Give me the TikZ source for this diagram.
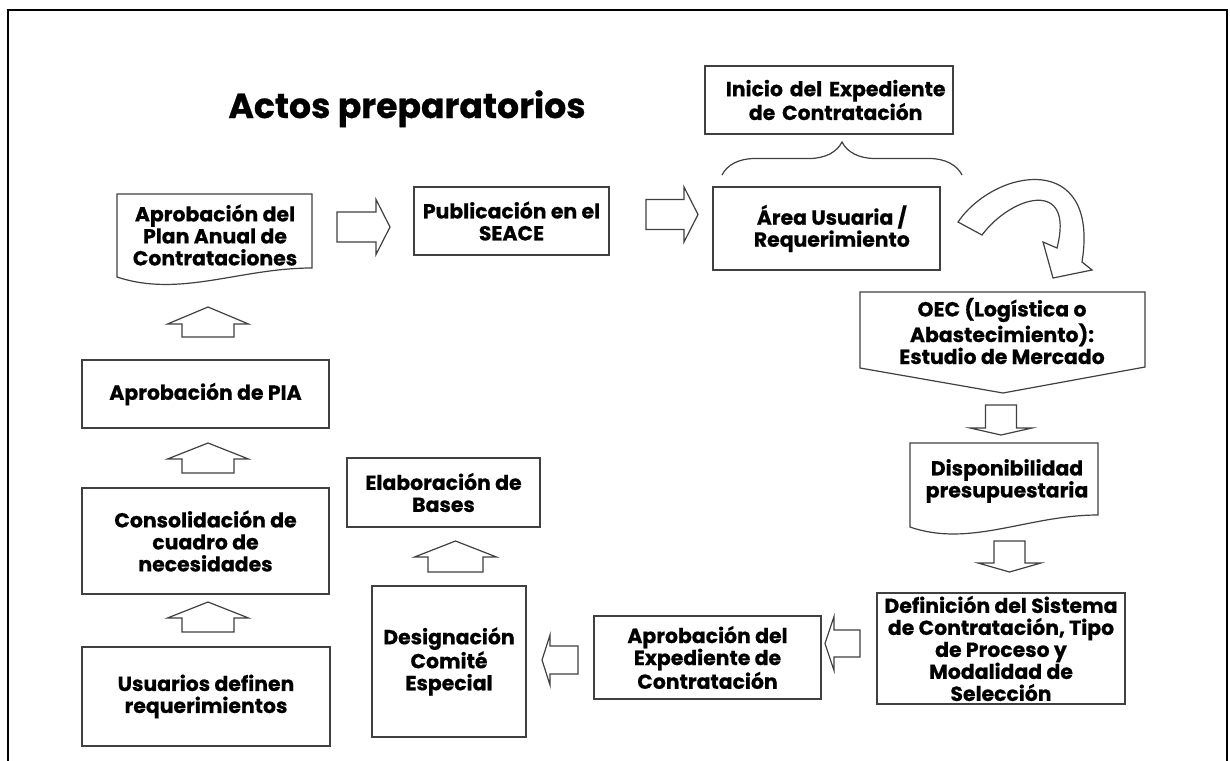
\documentclass[tikz,border=0pt]{standalone}
\usepackage{fontspec}
\setmainfont{Poppins}[BoldFeatures={FakeBold=0.6}]
\usetikzlibrary{decorations.pathreplacing,calc}
\tikzset{
  shapeline/.style={draw=black!75, line width=0.9pt, fill=white},
  lbl/.style={font=\fontsize{15.3}{16.5}\selectfont\bfseries, align=center, text=black},
  box/.style={shapeline, lbl, inner sep=0pt},
  sz/.style 2 args={minimum width=#1*0.75pt, minimum height=#2*0.75pt},
  frame/.style={draw=black, line width=1.8pt},
  pics/barrow/.style n args={4}{code={
    \draw[shapeline] (-#1/2,-#3/2) -- (#1/2-#2,-#3/2) -- (#1/2-#2,-#4/2) -- (#1/2,0)
      -- (#1/2-#2,#4/2) -- (#1/2-#2,#3/2) -- (-#1/2,#3/2) -- cycle;
  }}
}
\begin{document}
\begin{tikzpicture}[x=0.75pt,y=-0.75pt]
\useasboundingbox (0,0) rectangle (1230,760);
% outer frame (open at the bottom)
\draw[frame] (8,775) -- (8,10) -- (1227,10) -- (1227,775);

% title
\node[font=\fontsize{26}{30}\selectfont\bfseries, anchor=base] (title) at (407,118) {Actos preparatorios};

% document shape: Plan Anual
\draw[shapeline] (117,194) -- (312,194) -- (312,268)
  .. controls (240,268) and (180,298) .. (117,277) -- cycle;
\node[lbl] (plan) at (215,235) {Aprobación del\\Plan Anual de\\Contrataciones};

% rectangles
\node[box, sz={195}{68}] (seace) at (511.5,221) {Publicación en el\\SEACE};
\node[box, sz={248}{68}, text width=248*0.75pt] (inicio) at (829,100) {\hspace*{10pt}Inicio del Expediente\\\hspace*{10pt}de Contratación};
\node[box, sz={227}{83}] (area) at (826.5,228.5) {\hspace*{8pt}Área Usuaria /\\\hspace*{8pt}Requerimiento};
\node[box, sz={247}{68}] (pia) at (205.5,394) {Aprobación de PIA};
\node[box, sz={247}{106}] (consol) at (205.5,541) {Consolidación de\\cuadro de\\necesidades};
\node[box, sz={248}{99}] (usu) at (206,696.5) {Usuarios definen\\requerimientos};
\node[box, sz={193}{69}] (elab) at (443.5,492.5) {Elaboración de\\Bases};
\node[box, sz={154}{151}] (desig) at (449,661.5) {Designación\\Comité\\Especial};
\node[box, sz={227}{83}] (aprobexp) at (707.5,657.5) {Aprobación del\\Expediente de\\Contratación};
\node[box, sz={248}{111}] (defi) at (1001,648.5) {Definición del Sistema\\de Contratación, Tipo\\de Proceso y\\Modalidad de\\Selección};

% brace
\draw[draw=black!75, line width=0.9pt, decorate, decoration={brace, amplitude=24.75pt}]
  (722,175) -- (962,175);

% off-page shape: OEC
\draw[shapeline] (860,292) -- (1145,292) -- (1145,367) -- (1003,393) -- (860,368) -- cycle;
\node[lbl] (oec) at (1002,331) {OEC (Logística o\\Abastecimiento):\\Estudio de Mercado};

% document shape: Disponibilidad
\draw[shapeline] (910,443) -- (1098,443) -- (1098,515)
  .. controls (1028,515) and (970,548) .. (910,527) -- cycle;
\node[lbl] (disp) at (1007,481) {Disponibilidad\\presupuestaria};

% curved arrow
\draw[shapeline] (958,222) .. controls (995,168) and (1100,150) .. (1082,262)
  -- (1092,270) -- (1053,278) -- (1043,242) -- (1057,248)
  .. controls (1075,178) and (1012,195) .. (982,235) -- cycle;

% block arrows
\pic[rotate=90] at (208,322) {barrow={30}{17}{52}{81}};
\pic[rotate=90] at (208,458) {barrow={30}{16}{52}{81}};
\pic[rotate=90] at (208,617) {barrow={30}{16}{52}{81}};
\pic[rotate=90] at (455.5,556.5) {barrow={31}{16}{55}{82}};
\pic at (363.5,227) {barrow={53}{14}{30}{55}};
\pic at (672,214.5) {barrow={52}{14}{30}{55}};
\pic[rotate=-90] at (1001,420) {barrow={30}{7}{31}{62}};
\pic[rotate=-90] at (1009.5,556.5) {barrow={31}{9}{31}{63}};
\pic[rotate=180] at (842.5,643.5) {barrow={35}{9}{27}{54}};
\pic[rotate=180] at (560,660) {barrow={36}{8}{28}{50}};
\end{tikzpicture}
\end{document}
